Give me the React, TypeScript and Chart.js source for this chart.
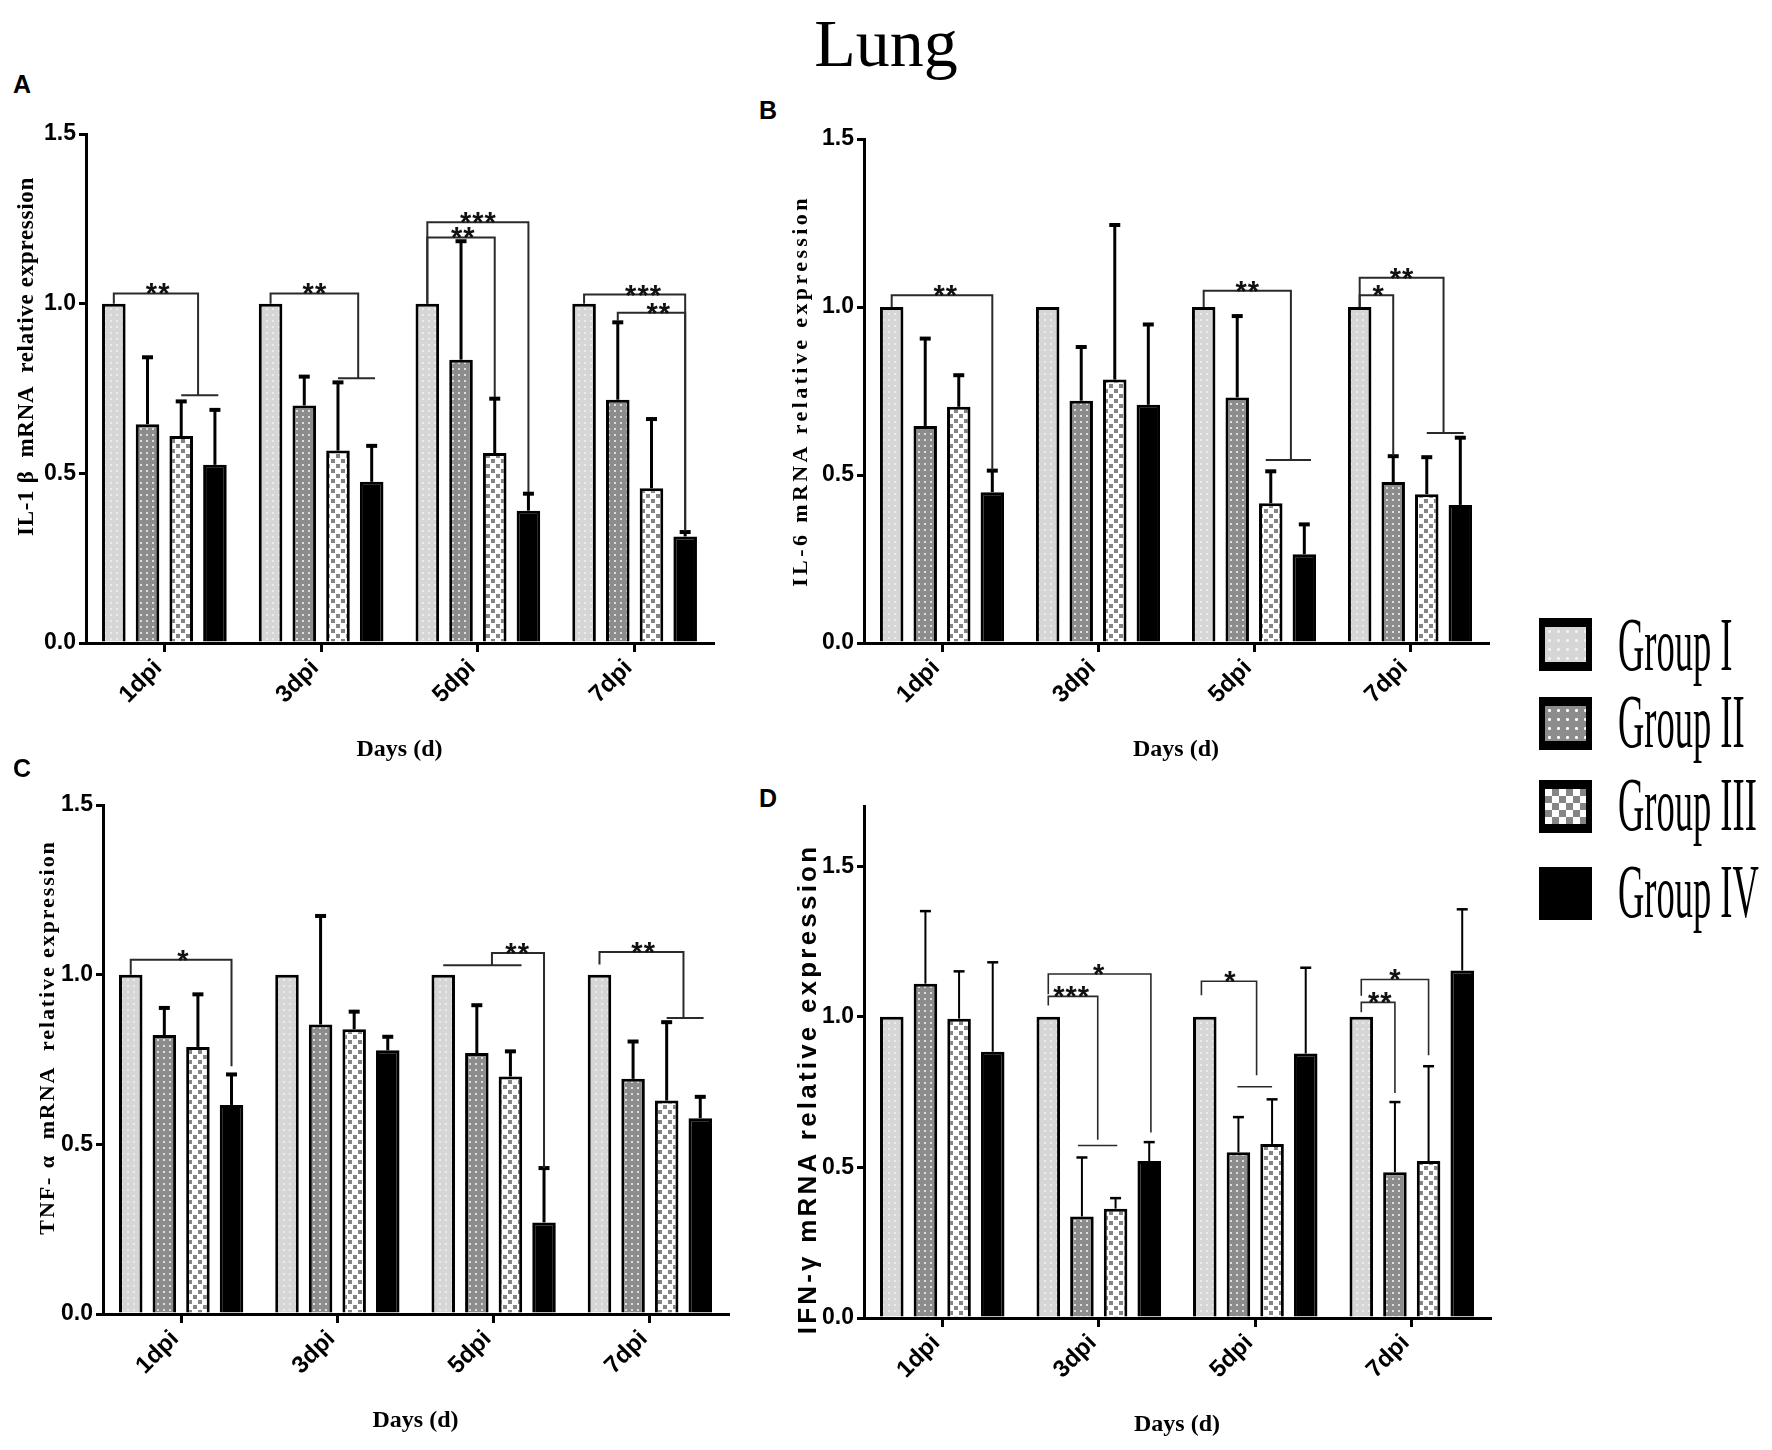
import React, { useEffect, useRef } from 'react';
import { Chart, registerables } from 'chart.js';

Chart.register(...registerables);

const days = ['1dpi', '3dpi', '5dpi', '7dpi'];
const groups = ['Group I', 'Group II', 'Group III', 'Group IV'];
const yTicks = [0, 0.5, 1.0, 1.5];

// rows = groups, columns = days
// A: IL-1β
const il1bMean = [
  [1, 1, 1, 1],
  [0.645, 0.7, 0.835, 0.717],
  [0.61, 0.567, 0.56, 0.456],
  [0.525, 0.475, 0.39, 0.314],
];
const il1bErr = [
  [0, 0, 0, 0],
  [0.197, 0.085, 0.349, 0.228],
  [0.102, 0.201, 0.16, 0.204],
  [0.162, 0.106, 0.05, 0.013],
];
// [day, from group, to group, bracket top, left leg end, right leg end, stars, stars at group]
const il1bBrackets = [
  [0, 0, 2.5, 1.03, 1.0, 0.73, '**', 1.3],
  [1, 0, 2.6, 1.03, 1.0, 0.78, '**', 1.3],
  [2, 0, 3, 1.24, 1.0, 0.445, '***', 1.5],
  [2, 0, 2, 1.195, 1.0, 0.725, '**', 1.05],
  [3, 0, 3, 1.027, 1.0, 0.33, '***', 1.75],
  [3, 1, 3, 0.973, 0.95, 0.33, '**', 2.2],
];
// [day, from group, to group, value]
const il1bLines = [
  [0, 2, 3.1, 0.73],
  [1, 2, 3.1, 0.78],
];

// B: IL-6
const il6Mean = [
  [1, 1, 1, 1],
  [0.646, 0.721, 0.731, 0.479],
  [0.703, 0.784, 0.416, 0.443],
  [0.449, 0.709, 0.264, 0.411],
];
const il6Err = [
  [0, 0, 0, 0],
  [0.26, 0.16, 0.242, 0.077],
  [0.094, 0.46, 0.095, 0.11],
  [0.064, 0.239, 0.089, 0.2],
];
const il6Brackets = [
  [0, 0, 3, 1.035, 1.0, 0.515, '**', 1.6],
  [2, 0, 2.6, 1.048, 1.0, 0.545, '**', 1.3],
  [3, 0, 2.5, 1.087, 1.0, 0.625, '**', 1.25],
  [3, 0, 1, 1.035, 1.0, 0.558, '*', 0.55],
];
const il6Lines = [
  [2, 1.85, 3.2, 0.545],
  [3, 2, 3.1, 0.625],
];

// C: TNF-α
const tnfMean = [
  [1, 1, 1, 1],
  [0.822, 0.853, 0.769, 0.693],
  [0.787, 0.839, 0.7, 0.629],
  [0.616, 0.777, 0.27, 0.577],
];
const tnfErr = [
  [0, 0, 0, 0],
  [0.08, 0.32, 0.141, 0.11],
  [0.155, 0.052, 0.074, 0.231],
  [0.09, 0.04, 0.16, 0.063],
];
const tnfBrackets = [
  [0, 0, 3, 1.044, 1.0, 0.73, '*', 1.55],
  [2, 1.45, 3, 1.064, 1.028, 0.43, '**', 2.2],
  [3, 0, 2.5, 1.067, 1.03, 0.872, '**', 1.3],
];
const tnfLines = [
  [2, 0, 2.33, 1.028],
  [3, 2, 3.1, 0.872],
];

// D: IFN-γ
const ifnMean = [
  [1, 1, 1, 1],
  [1.11, 0.337, 0.55, 0.484],
  [0.994, 0.363, 0.578, 0.521],
  [0.884, 0.521, 0.878, 1.154],
];
const ifnErr = [
  [0, 0, 0, 0],
  [0.241, 0.196, 0.117, 0.233],
  [0.157, 0.035, 0.148, 0.315],
  [0.297, 0.063, 0.285, 0.203],
];
const ifnBrackets = [
  [1, 0, 3.05, 1.142, 1.075, 0.616, '*', 1.5],
  [1, 0, 1.47, 1.068, 1.038, 0.592, '***', 0.68],
  [2, -0.1, 1.54, 1.118, 1.072, 0.806, '*', 0.75],
  [3, 0, 2, 1.124, 1.07, 0.872, '*', 1.0],
  [3, 0, 1, 1.048, 1.015, 0.747, '**', 0.55],
];
const ifnLines = [
  [1, 0.88, 2.05, 0.573],
  [2, 0.97, 2.0, 0.768],
];

type Panel = {
  letter: string;
  mean: number[][];
  err: number[][];
  brackets: any[];
  lines: any[];
  yTitle: string;
  titleFont: string;
  titleSpacing: number;
  titleDx: number;
  titleDy: number;
  max: number;
  area: number[]; // left, right, top, bottom in page px
  thin?: boolean;
};

const panels: Panel[] = [
  {
    letter: 'A', mean: il1bMean, err: il1bErr, brackets: il1bBrackets, lines: il1bLines,
    yTitle: 'IL-1 β  mRNA  relative expression', titleFont: 'bold 23px "Liberation Serif"',
    titleSpacing: 0.7, titleDx: 59, titleDy: -32, max: 1.5, area: [86, 713, 134, 643],
  },
  {
    letter: 'B', mean: il6Mean, err: il6Err, brackets: il6Brackets, lines: il6Lines,
    yTitle: 'IL-6 mRNA relative expression', titleFont: 'bold 22px "Liberation Serif"',
    titleSpacing: 3.4, titleDx: 63, titleDy: 0, max: 1.5, area: [864, 1488, 139, 643],
  },
  {
    letter: 'C', mean: tnfMean, err: tnfErr, brackets: tnfBrackets, lines: tnfLines,
    yTitle: 'TNF- α  mRNA  relative expression', titleFont: 'bold 22px "Liberation Serif"',
    titleSpacing: 1.9, titleDx: 55, titleDy: -22, max: 1.5, area: [103, 728, 805, 1314],
  },
  {
    letter: 'D', mean: ifnMean, err: ifnErr, brackets: ifnBrackets, lines: ifnLines,
    yTitle: 'IFN-γ mRNA relative expression', titleFont: 'bold 26px "Liberation Sans"',
    titleSpacing: 3.2, titleDx: 55, titleDy: 27, max: 1.7, area: [864, 1490, 806, 1318], thin: true,
  },
];

const PAD_T = 20;
const PAD_R = 12;
const Y_W = 80;
const X_H = 121;

function makeFill(kind: number): CanvasPattern | string {
  const c = document.createElement('canvas');
  const ctx = c.getContext('2d');
  if (!ctx) return '#999';
  if (kind === 0) {
    c.width = 6; c.height = 6;
    ctx.fillStyle = '#d6d6d6'; ctx.fillRect(0, 0, 6, 6);
    ctx.fillStyle = '#ebebeb'; ctx.fillRect(2, 2, 2, 2);
  } else if (kind === 1) {
    c.width = 6; c.height = 6;
    ctx.fillStyle = '#8c8c8c'; ctx.fillRect(0, 0, 6, 6);
    ctx.fillStyle = '#dedede'; ctx.fillRect(2, 2, 2, 2);
  } else {
    c.width = 10; c.height = 10;
    ctx.fillStyle = '#ffffff'; ctx.fillRect(0, 0, 10, 10);
    ctx.fillStyle = '#858585'; ctx.fillRect(0, 0, 4, 4); ctx.fillRect(5, 5, 4, 4);
  }
  return ctx.createPattern(c, 'repeat') || '#999';
}

function marks(p: Panel) {
  return {
    id: 'marks' + p.letter,
    afterDatasetsDraw(chart: any) {
      const { ctx } = chart;
      const ys = chart.scales.y;
      const m0 = chart.getDatasetMeta(0);
      const m1 = chart.getDatasetMeta(1);
      const gx = (day: number, g: number) => {
        const a = m0.data[day].x;
        const b = m1.data[day].x;
        return a + g * (b - a);
      };
      const py = (v: number) => ys.getPixelForValue(v);
      ctx.save();
      ctx.strokeStyle = '#000';
      p.err.forEach((row, g) => {
        const meta = chart.getDatasetMeta(g);
        row.forEach((e, day) => {
          if (!e) return;
          const el = meta.data[day];
          const top = py(p.mean[g][day] + e);
          ctx.lineWidth = p.thin ? 2 : 3;
          ctx.beginPath(); ctx.moveTo(el.x, el.y); ctx.lineTo(el.x, top); ctx.stroke();
          ctx.lineWidth = p.thin ? 2.5 : 4;
          ctx.beginPath(); ctx.moveTo(el.x - 5.5, top); ctx.lineTo(el.x + 5.5, top); ctx.stroke();
        });
      });
      ctx.strokeStyle = '#2a2a2a';
      ctx.lineWidth = p.thin ? 1.6 : 2;
      p.lines.forEach(([day, g1, g2, v]) => {
        ctx.beginPath(); ctx.moveTo(gx(day, g1), py(v)); ctx.lineTo(gx(day, g2), py(v)); ctx.stroke();
      });
      ctx.fillStyle = '#111';
      ctx.font = 'bold 29px "Liberation Sans"';
      ctx.textAlign = 'center';
      ctx.textBaseline = 'alphabetic';
      ctx.letterSpacing = '1px';
      p.brackets.forEach(([day, g1, g2, top, e1, e2, stars, at]) => {
        const x1 = gx(day, g1);
        const x2 = gx(day, g2);
        const yt = py(top);
        ctx.beginPath();
        ctx.moveTo(x1, py(e1)); ctx.lineTo(x1, yt); ctx.lineTo(x2, yt); ctx.lineTo(x2, py(e2));
        ctx.stroke();
        ctx.fillText(stars, gx(day, at) + 0.5, yt + 10);
      });
      ctx.restore();
    },
    afterDraw(chart: any) {
      const { ctx, chartArea: a } = chart;
      ctx.save();
      ctx.translate(a.left - p.titleDx, (a.top + a.bottom) / 2 + p.titleDy);
      ctx.rotate(-Math.PI / 2);
      ctx.font = p.titleFont;
      ctx.letterSpacing = p.titleSpacing + 'px';
      ctx.fillStyle = '#000';
      ctx.textAlign = 'center';
      ctx.textBaseline = 'middle';
      ctx.fillText(p.yTitle, 0, 0);
      ctx.restore();
    },
  };
}

const PanelChart = ({ p }: { p: Panel }) => {
  const chartRef = useRef<HTMLCanvasElement>(null);
  const [l, r, t, b] = p.area;
  const w = Y_W + (r - l) + PAD_R;
  const h = PAD_T + (b - t) + X_H;

  useEffect(() => {
    if (!chartRef.current) return;
    const fills = [makeFill(0), makeFill(1), makeFill(2), '#000'];
    const chart = new Chart(chartRef.current, {
      type: 'bar',
      data: {
        labels: days,
        datasets: groups.map((g, k) => ({
          label: g,
          data: p.mean[k],
          backgroundColor: fills[k] as any,
          borderColor: '#000',
          borderWidth: 3,
          barPercentage: 0.7,
          categoryPercentage: 0.86,
        })),
      },
      options: {
        responsive: false,
        animation: false,
        layout: { padding: { top: PAD_T, right: PAD_R, left: 0, bottom: 0 } },
        plugins: { legend: { display: false }, tooltip: { enabled: false } },
        scales: {
          x: {
            offset: true,
            z: 1,
            grid: { display: true, drawOnChartArea: false, offset: false, tickLength: 9, lineWidth: 3, color: '#000' },
            border: { display: true, color: '#000', width: 3 },
            ticks: {
              color: '#000',
              font: { family: '"Liberation Sans", Arial, sans-serif', size: 24, weight: 'bold' },
              minRotation: 45,
              maxRotation: 45,
              autoSkip: false,
              padding: 2,
              labelOffset: -6,
            },
            title: {
              display: true,
              text: 'Days (d)',
              color: '#000',
              font: { family: '"Liberation Serif", "Times New Roman", serif', size: 24, weight: 'bold' },
              padding: { top: 0, bottom: 0 },
            },
            afterFit: (s: any) => { s.height = X_H; },
          },
          y: {
            min: 0,
            max: p.max,
            z: 1,
            afterBuildTicks: (s: any) => { s.ticks = yTicks.map((v) => ({ value: v })); },
            grid: { display: true, drawOnChartArea: false, tickLength: 7, lineWidth: 3, color: '#000' },
            border: { display: true, color: '#000', width: 3 },
            ticks: {
              color: '#000',
              padding: 3,
              font: { family: '"Liberation Sans", Arial, sans-serif', size: 23, weight: 'bold' },
              callback: (v: any) => Number(v).toFixed(1),
            },
            afterFit: (s: any) => { s.width = Y_W; },
          },
        },
      },
      plugins: [marks(p)],
    });
    return () => chart.destroy();
  }, []);

  return (
    <canvas
      ref={chartRef}
      width={w}
      height={h}
      style={{ position: 'absolute', left: l - Y_W, top: t - PAD_T, width: w, height: h }}
    />
  );
};

const letterPos = [
  [13, 72],
  [759, 98],
  [13, 756],
  [759, 786],
];

const legendFills = [
  'radial-gradient(circle, #f2f2f2 1.2px, transparent 1.8px) 0 0 / 9px 9px, #d6d6d6',
  'radial-gradient(circle, #ffffff 1.2px, transparent 1.8px) 0 0 / 9px 9px, #8c8c8c',
  'conic-gradient(#858585 25%, #ffffff 0 50%, #858585 0 75%, #ffffff 0) 0 0 / 14px 14px',
  '#000',
];
const legendBoxTops = [618, 697, 780, 867];
const legendTextTops = [606, 683, 766, 853];

export default function App() {
  return (
    <div style={{ position: 'absolute', left: 0, top: 0, width: 1772, height: 1450, overflow: 'hidden', background: '#fff' }}>
      <div
        style={{
          position: 'absolute', left: 0, top: 9, width: 1772, textAlign: 'center',
          font: '68px "Liberation Serif", "Times New Roman", serif', lineHeight: '68px', color: '#000',
        }}
      >
        Lung
      </div>
      {panels.map((p, i) => (
        <React.Fragment key={p.letter}>
          <div
            style={{
              position: 'absolute', left: letterPos[i][0], top: letterPos[i][1],
              font: 'bold 25px "Liberation Sans", Arial, sans-serif', lineHeight: '25px', color: '#000',
            }}
          >
            {p.letter}
          </div>
          <PanelChart p={p} />
        </React.Fragment>
      ))}
      {groups.map((g, k) => (
        <React.Fragment key={g}>
          <div
            style={{
              position: 'absolute', left: 1539, top: legendBoxTops[k], width: 53, height: 53,
              boxSizing: 'border-box', border: k < 3 ? '#000 solid' : 'none',
              borderWidth: k < 3 ? '9px 6px' : 0, background: legendFills[k],
            }}
          />
          <div
            style={{
              position: 'absolute', left: 1618, top: legendTextTops[k], whiteSpace: 'nowrap',
              font: '76px "Liberation Serif", "Times New Roman", serif', lineHeight: '76px',
              transform: 'scaleX(0.48)', transformOrigin: '0 0', color: '#000',
            }}
          >
            {g}
          </div>
        </React.Fragment>
      ))}
    </div>
  );
}
